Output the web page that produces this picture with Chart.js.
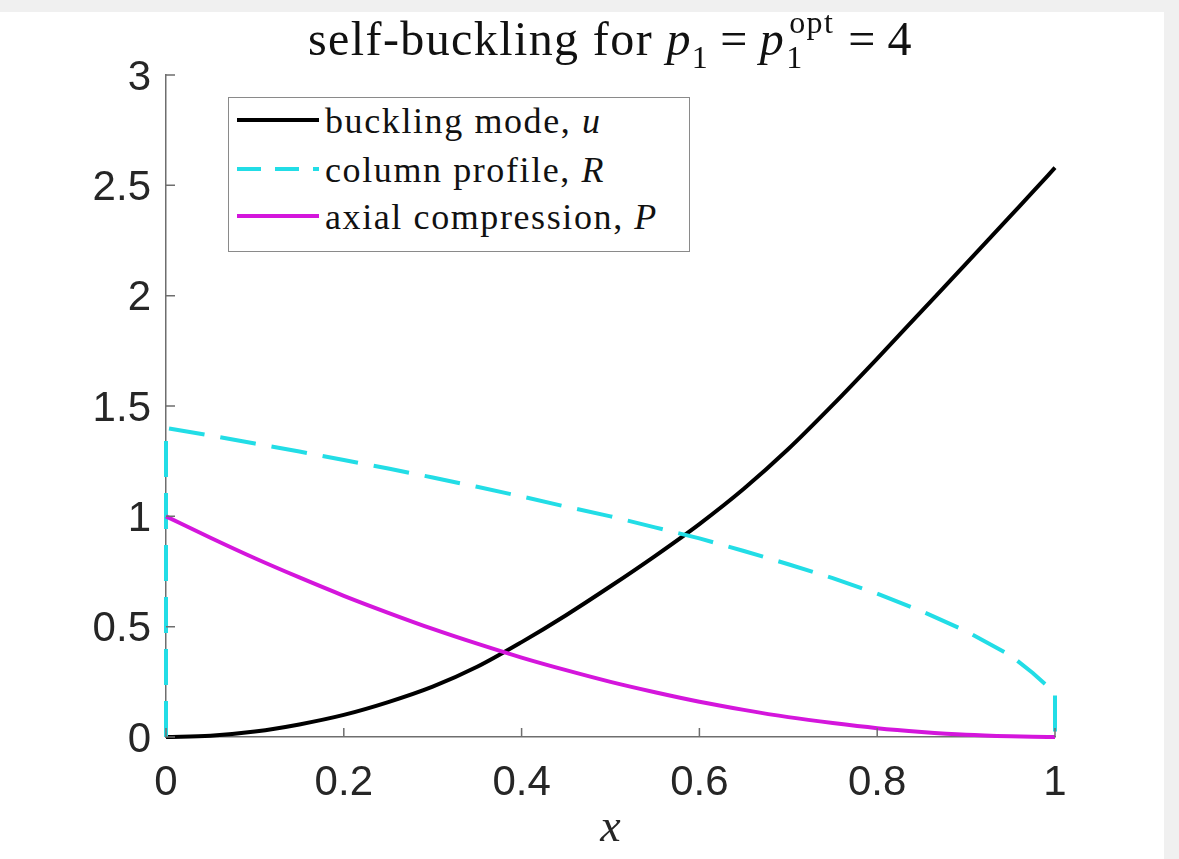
<!DOCTYPE html>
<html>
<head>
<meta charset="utf-8">
<script src="https://cdn.jsdelivr.net/npm/chart.js@4"></script>
<style>
  body { margin: 0; background: #f0f0f0; width: 1179px; height: 859px; overflow: hidden; position: relative; }
  #sheet { position: absolute; left: 0; top: 12px; width: 1164px; height: 847px; background: #fff; }
  #plot { position: absolute; left: 0; top: 0; }
  #title {
    position: absolute; left: 166px; width: 889px; top: 11px;
    text-align: center; font-family: 'Liberation Serif', serif; font-size: 48px; color: #111;
    white-space: nowrap; letter-spacing: 1.4px;
  }
  #title i { font-style: italic; }
  .eq { margin: 0 11px; }
  .lo { font-size: 32px; vertical-align: -13px; }
  .stack { display: inline-block; position: relative; width: 52px; height: 0; }
  .stack .sp { position: absolute; left: 4px; bottom: 17px; font-size: 32px; line-height: 1; }
  .stack .sb { position: absolute; left: 1px; bottom: -18px; font-size: 32px; line-height: 1; }
  #legend {
    position: absolute; left: 228px; top: 97px; width: 462px; height: 155px;
    border: 1.5px solid #8a8a8a; background: #fff; box-sizing: border-box;
    font-family: 'Liberation Serif', serif; font-size: 36px; color: #111; letter-spacing: 1.6px;
  }
  .row { position: absolute; left: 6px; height: 44px; display: flex; align-items: center; white-space: nowrap; }
  .row svg { margin-right: 6px; margin-top: -2px; }
</style>
</head>
<body>
<div id="sheet"></div>
<canvas id="plot" width="1179" height="859"></canvas>
<div id="title">self-buckling for <i>p</i><span class="lo">1</span><span class="eq">=</span><i>p</i><span class="stack"><span class="sp">opt</span><span class="sb">1</span></span><span class="eq">=</span>4</div>
<div id="legend">
  <div class="row" style="top:1px"><svg width="84" height="8"><line x1="2" y1="4" x2="84" y2="4" stroke="#000" stroke-width="4"/></svg>buckling mode, <i>&nbsp;u</i></div>
  <div class="row" style="top:50px"><svg width="84" height="8"><line x1="2" y1="4" x2="84" y2="4" stroke="#22dde6" stroke-width="4" stroke-dasharray="24 14"/></svg>column profile, <i>&nbsp;R</i></div>
  <div class="row" style="top:97px"><svg width="84" height="8"><line x1="2" y1="4" x2="84" y2="4" stroke="#d416dc" stroke-width="4"/></svg>axial compression, <i>&nbsp;P</i></div>
</div>
<script>
// values
const xValues = [0, 0.05, 0.1, 0.15, 0.2, 0.25, 0.3, 0.35, 0.4, 0.45, 0.5, 0.55, 0.6, 0.65, 0.7, 0.75, 0.8, 0.85, 0.9, 0.95, 0.975, 1];
const uValues = [0, 0.006, 0.025, 0.057, 0.10, 0.158, 0.228, 0.318, 0.43, 0.552, 0.683, 0.82, 0.965, 1.125, 1.305, 1.505, 1.715, 1.93, 2.145, 2.362, 2.47, 2.58];
const rValues = [1.40, 1.366, 1.33, 1.294, 1.255, 1.217, 1.176, 1.134, 1.09, 1.044, 1.0, 0.95, 0.90, 0.843, 0.783, 0.72, 0.65, 0.57, 0.48, 0.37, 0.29, 0.20];
const pValues = [1, 0.903, 0.81, 0.723, 0.64, 0.563, 0.49, 0.423, 0.36, 0.303, 0.25, 0.203, 0.16, 0.123, 0.09, 0.063, 0.04, 0.023, 0.01, 0.003, 0.001, 0];
const rBase = 0; // profile drops to the axis at both ends
const xTicks = [0, 0.2, 0.4, 0.6, 0.8, 1];
const yTicks = [0, 0.5, 1, 1.5, 2, 2.5, 3];

const axisColor = '#6e6e6e';

function pts(ys) {
    return xValues.map((x, i) => ({ x: x, y: ys[i] }));
}

// MATLAB style ticks pointing into the plot
const innerTicks = {
    id: 'innerTicks',
    afterDraw(chart) {
        const ctx = chart.ctx;
        const xs = chart.scales.x, ys = chart.scales.y;
        ctx.save();
        ctx.strokeStyle = axisColor;
        ctx.lineWidth = 1.5;
        ctx.beginPath();
        xTicks.forEach(v => {
            const px = xs.getPixelForValue(v);
            ctx.moveTo(px, ys.bottom);
            ctx.lineTo(px, ys.bottom - 9);
        });
        yTicks.forEach(v => {
            const py = ys.getPixelForValue(v);
            ctx.moveTo(xs.left, py);
            ctx.lineTo(xs.left + 9, py);
        });
        ctx.stroke();
        ctx.restore();
    }
};

const chart = new Chart(document.getElementById('plot'), {
    type: 'line',
    data: {
        datasets: [
            {
                label: 'buckling mode, u',
                data: pts(uValues),
                borderColor: '#000000',
                borderWidth: 4,
                cubicInterpolationMode: 'monotone',
                order: 3
            },
            {
                label: 'column profile, R',
                data: [{ x: 0, y: rBase }].concat(pts(rValues), [{ x: 1, y: rBase }]),
                borderColor: '#22dde6',
                borderWidth: 4,
                borderDash: [36, 16],
                tension: 0,
                order: 2
            },
            {
                label: 'axial compression, P',
                data: pts(pValues),
                borderColor: '#d416dc',
                borderWidth: 4,
                cubicInterpolationMode: 'monotone',
                order: 1
            }
        ]
    },
    options: {
        responsive: false,
        animation: false,
        events: [],
        elements: { point: { radius: 0 } },
        datasets: { line: { clip: false } },
        layout: { padding: { left: 0, top: 75, right: 124, bottom: 0 } },
        plugins: {
            legend: { display: false },
            title: { display: false },
            tooltip: { enabled: false }
        },
        scales: {
            x: {
                type: 'linear',
                min: 0,
                max: 1,
                afterBuildTicks: s => { s.ticks = xTicks.map(v => ({ value: v })); },
                afterFit: s => { s.height = 122; },
                grid: { display: false, drawTicks: false },
                border: { display: true, color: axisColor, width: 1.5 },
                ticks: {
                    padding: 21,
                    color: '#262626',
                    maxRotation: 0,
                    font: { family: "'Liberation Sans', Arial, sans-serif", size: 42 },
                    callback: v => String(v)
                },
                title: {
                    display: true,
                    text: 'x',
                    color: '#262626',
                    padding: { top: 0, bottom: 2 },
                    font: { family: "'Liberation Serif', serif", size: 46, style: 'italic' }
                }
            },
            y: {
                type: 'linear',
                min: 0,
                max: 3,
                afterBuildTicks: s => { s.ticks = yTicks.map(v => ({ value: v })); },
                afterFit: s => { s.width = 166; },
                grid: { display: false, drawTicks: false },
                border: { display: true, color: axisColor, width: 1.5 },
                ticks: {
                    padding: 15,
                    labelOffset: 3,
                    color: '#262626',
                    font: { family: "'Liberation Sans', Arial, sans-serif", size: 42 },
                    callback: v => String(v)
                }
            }
        }
    },
    plugins: [innerTicks]
});
</script>
</body>
</html>
